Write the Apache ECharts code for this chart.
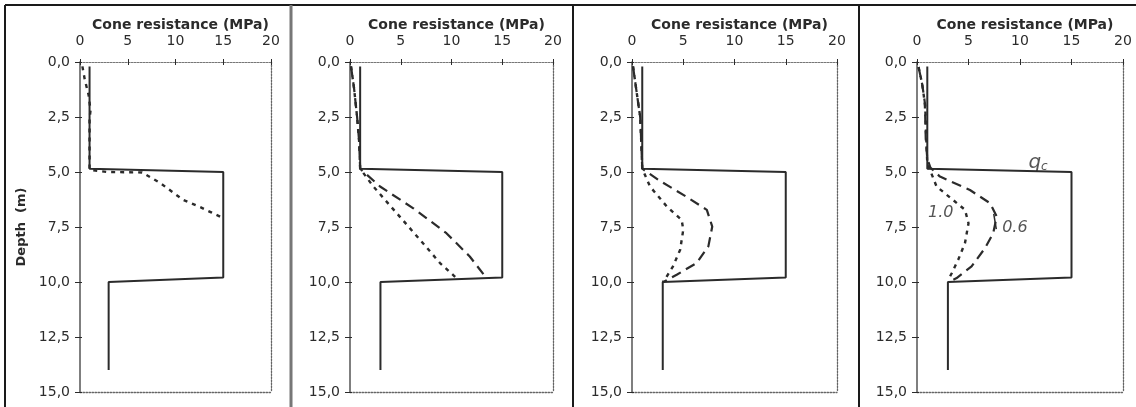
<!DOCTYPE html>
<html><head><meta charset="utf-8">
<script src="https://cdn.jsdelivr.net/npm/echarts@6/dist/echarts.min.js"></script>
<style>html,body{margin:0;padding:0;background:#fff}#c{width:1136px;height:407px}</style>
</head><body><div id="c"></div>
<script>
// ---- data (x = cone resistance MPa, d = depth m) ----
const xTickLabels = ['0','5','10','15','20'];
const depthTickLabels = ['0,0','2,5','5,0','7,5','10,0','12,5','15,0'];

// measured cone resistance q_c (same in every panel)
const qcX = [1.0, 1.0, 15.0, 15.0, 3.0, 3.0];
const qcD = [0.2, 4.85, 5.0, 9.8, 10.0, 14.0];

// panel 1
const p1DotX = [0.25, 0.5, 0.9, 1.1, 1.0, 1.0, 2.8, 6.5, 8.4, 10.8, 12.6, 13.8, 15.0];
const p1DotD = [0.2, 0.8, 1.5, 2.2, 2.6, 4.9, 5.0, 5.02, 5.5, 6.27, 6.6, 6.85, 7.1];

// panel 2
const p2DashX = [0.1, 0.4, 0.7, 0.9, 1.0, 2.96, 6.24, 9.5, 11.8, 13.3, 13.5];
const p2DashD = [0.2, 1.2, 2.5, 3.6, 4.85, 5.66, 6.65, 7.78, 8.84, 9.74, 9.82];
const p2DotX  = [0.1, 0.4, 0.7, 0.9, 1.0, 2.3, 4.6, 6.9, 8.87, 10.3, 10.6];
const p2DotD  = [0.2, 1.2, 2.5, 3.6, 4.85, 5.66, 6.87, 8.08, 9.14, 9.74, 9.87];

// panel 3
const p3DashX = [0.1, 0.4, 0.8, 0.9, 1.0, 2.57, 5.3, 7.3, 7.83, 7.45, 6.3, 4.36, 3.05];
const p3DashD = [0.2, 1.2, 2.5, 3.6, 4.85, 5.36, 6.12, 6.72, 7.48, 8.38, 9.14, 9.67, 10.0];
const p3DotX  = [0.1, 0.4, 0.8, 0.9, 1.0, 1.76, 3.4, 4.85, 5.0, 4.7, 4.0, 3.2, 3.0];
const p3DotD  = [0.2, 1.2, 2.5, 3.6, 4.85, 5.66, 6.57, 7.18, 7.63, 8.53, 9.29, 9.89, 10.0];

// panel 4
const p4DashX = [0.15, 0.5, 0.75, 0.8, 0.85, 1.0, 1.3, 2.23, 5.14, 7.1, 7.74, 7.4, 6.6, 5.3, 3.85, 3.2];
const p4DashD = [0.23, 1.0, 1.8, 2.5, 3.5, 4.4, 4.8, 5.21, 5.82, 6.42, 7.02, 7.78, 8.46, 9.29, 9.82, 9.97];
const p4DotX  = [0.15, 0.5, 0.8, 0.9, 1.0, 1.9, 3.5, 4.66, 5.0, 4.66, 4.0, 3.37, 3.04];
const p4DotD  = [0.23, 1.0, 2.0, 3.5, 4.6, 5.66, 6.27, 6.72, 7.33, 8.23, 8.99, 9.6, 9.9];

// handwritten notes in panel 4
const noteText = ['qc', '1.0', '0.6'];
const noteX = [11.75, 2.3, 9.5];
const noteD = [4.6, 6.85, 7.55];
const leaderX = [7.45, 7.7];
const leaderD = [6.9, 7.6];

// ---- chart ----
const ink = '#2b2b2b';
const zip = (a, b) => a.map((v, i) => [v, b[i]]);
const grids = [
  {left: 80, width: 191},
  {left: 350, width: 203},
  {left: 632, width: 205},
  {left: 917, width: 206}
];
const xAxes = [], yAxes = [], series = [];
grids.forEach((g, i) => {
  const base = {gridIndex: i, type: 'value', min: 0, max: 20, interval: 5, splitLine: {show: false}};
  xAxes.push(Object.assign({}, base, {
    position: 'top',
    name: 'Cone resistance (MPa)', nameLocation: 'middle', nameGap: 30, nameMoveOverlap: false,
    nameTextStyle: {fontFamily: 'DejaVu Sans', fontWeight: 'bold', fontSize: 14, color: ink, padding: [0, 0, 0, 10]},
    axisLine: {show: true, onZero: false, lineStyle: {color: '#777', width: 1, type: [2, 1]}},
    axisTick: {show: true, inside: false, length: 3, lineStyle: {color: ink, width: 1}},
    axisLabel: {show: true, margin: 14, fontFamily: 'DejaVu Sans', fontSize: 14, color: ink,
      formatter: (v) => xTickLabels[Math.round(v / 5)]}
  }));
  xAxes.push(Object.assign({}, base, {
    position: 'top', axisLine: {show: false, onZero: false}, axisLabel: {show: false},
    axisTick: {show: true, inside: true, length: 3, lineStyle: {color: ink, width: 1}}
  }));
  xAxes.push(Object.assign({}, base, {
    position: 'bottom', axisLabel: {show: false}, axisTick: {show: false},
    axisLine: {show: true, onZero: false, lineStyle: {color: '#666', width: 1.3, type: [1.5, 1.5]}}
  }));
  const ybase = {gridIndex: i, type: 'value', min: 0, max: 15, interval: 2.5, inverse: true, splitLine: {show: false}};
  yAxes.push(Object.assign({}, ybase, {
    position: 'left',
    name: i === 0 ? 'Depth  (m)' : '', nameLocation: 'middle', nameGap: 52, nameMoveOverlap: false,
    nameTextStyle: {fontFamily: 'DejaVu Sans', fontWeight: 'bold', fontSize: 13, color: ink},
    axisLine: {show: true, onZero: false, lineStyle: {color: '#555', width: 1.5}},
    axisTick: {show: true, inside: false, length: 5, lineStyle: {color: ink, width: 1}},
    axisLabel: {show: true, margin: 10, fontFamily: 'DejaVu Sans', fontSize: 14, color: ink,
      formatter: (v) => depthTickLabels[Math.round(v / 2.5)]}
  }));
  yAxes.push(Object.assign({}, ybase, {
    position: 'left', axisLine: {show: false, onZero: false}, axisLabel: {show: false},
    axisTick: {show: true, inside: true, length: 2, lineStyle: {color: ink, width: 1}}
  }));
  yAxes.push(Object.assign({}, ybase, {
    position: 'right', axisLabel: {show: false}, axisTick: {show: false},
    axisLine: {show: true, onZero: false, lineStyle: {color: '#666', width: 1.3, type: [1.5, 1.5]}}
  }));
});

function line(i, x, d, type, width) {
  return {
    type: 'line', xAxisIndex: i * 3, yAxisIndex: i * 3, data: zip(x, d),
    symbol: 'none', showSymbol: false, animation: false, silent: true,
    lineStyle: {color: ink, width: width, type: type}
  };
}
const dashL = [10, 6], dashS = [4, 5];
series.push(line(0, p1DotX, p1DotD, dashS, 2.4));
series.push(line(1, p2DashX, p2DashD, dashL, 2.2));
series.push(line(1, p2DotX, p2DotD, dashS, 2.4));
series.push(line(2, p3DashX, p3DashD, dashL, 2.2));
series.push(line(2, p3DotX, p3DotD, dashS, 2.4));
series.push(line(3, p4DashX, p4DashD, dashL, 2.2));
series.push(line(3, p4DotX, p4DotD, dashS, 2.4));
for (let i = 0; i < 4; i++) series.push(line(i, qcX, qcD, 'solid', 2));
series.push(line(3, leaderX, leaderD, 'solid', 1.5));
series.push({
  type: 'scatter', xAxisIndex: 9, yAxisIndex: 9, symbolSize: 1, silent: true, animation: false,
  itemStyle: {color: 'rgba(0,0,0,0)'},
  data: noteText.map((t, k) => ({value: [noteX[k], noteD[k]], name: t})),
  label: {
    show: true, position: 'inside', color: ink,
    fontFamily: 'DejaVu Sans', fontStyle: 'italic', fontSize: 16,
    formatter: (p) => p.name === 'qc' ? '{q|q}{c|c}' : p.name,
    rich: {
      q: {fontFamily: 'DejaVu Sans', fontStyle: 'italic', fontSize: 20, color: ink},
      c: {fontFamily: 'DejaVu Sans', fontStyle: 'italic', fontSize: 12, color: ink, padding: [8, 0, 0, 0]}
    }
  }
});

const chart = echarts.init(document.getElementById('c'), null, {renderer: 'canvas'});
chart.setOption({
  backgroundColor: '#fff',
  animation: false,
  grid: grids.map(g => ({left: g.left, width: g.width, top: 62, height: 330})),
  xAxis: xAxes,
  yAxis: yAxes,
  series: series,
  graphic: [
    {type: 'line', shape: {x1: 5, y1: 5, x2: 1136, y2: 5}, style: {stroke: '#1a1a1a', lineWidth: 2}},
    {type: 'line', shape: {x1: 5, y1: 5, x2: 5, y2: 407}, style: {stroke: '#1a1a1a', lineWidth: 2}},
    {type: 'line', shape: {x1: 291, y1: 5, x2: 291, y2: 407}, style: {stroke: '#777', lineWidth: 3}},
    {type: 'line', shape: {x1: 573, y1: 5, x2: 573, y2: 407}, style: {stroke: '#1a1a1a', lineWidth: 2}},
    {type: 'line', shape: {x1: 859, y1: 5, x2: 859, y2: 407}, style: {stroke: '#1a1a1a', lineWidth: 2}}
  ]
});
</script></body></html>
